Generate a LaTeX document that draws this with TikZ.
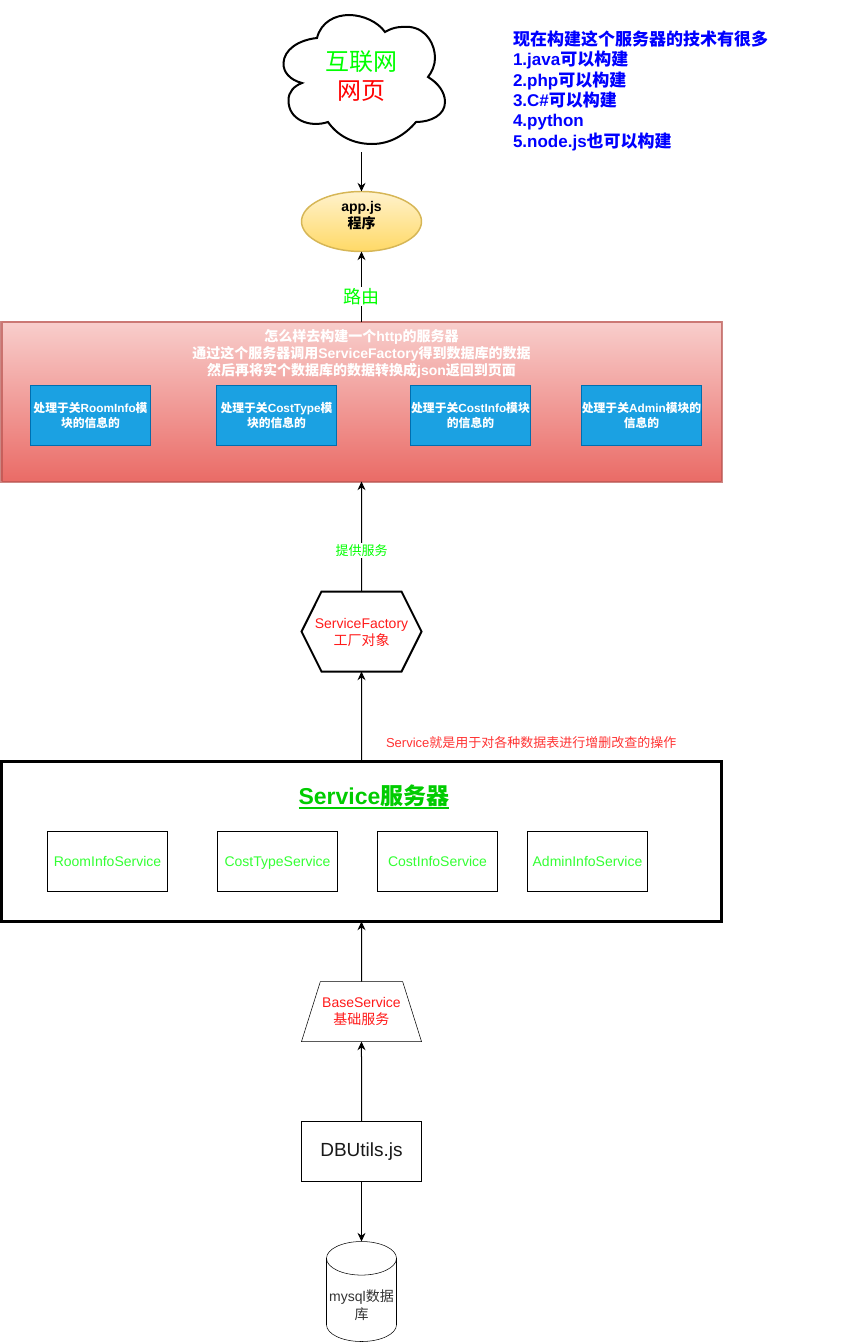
\documentclass[tikz,border=0pt]{standalone}
\usepackage{xcolor}
\usepackage{fontspec}
\setmainfont{Liberation Sans}
\newfontfamily\cjk{Noto Sans CJK SC}
\newcommand{\zh}[1]{{\cjk #1}}
\newcommand{\thickunder}[1]{\setbox0\hbox{#1}\rlap{\rule[-3pt]{\wd0}{1.3pt}}\box0}
\usepackage{tikz}
\usetikzlibrary{arrows.meta,positioning,shapes.geometric,shapes.symbols}
\definecolor{AppFillTop}{HTML}{FFF2CC}
\definecolor{AppFillBottom}{HTML}{FFD966}
\definecolor{AppLine}{HTML}{D6B656}
\definecolor{RouteTop}{HTML}{F8CECC}
\definecolor{RouteBottom}{HTML}{EA6B66}
\definecolor{RouteLine}{HTML}{B85450}
\definecolor{ModuleFill}{HTML}{1BA1E2}
\definecolor{ModuleLine}{HTML}{006EAF}
\definecolor{PureGreen}{HTML}{00FF00}
\definecolor{TitleGreen}{HTML}{00CC00}
\definecolor{CellGreen}{HTML}{33FF33}
\definecolor{NoteRed}{HTML}{FF3333}
\definecolor{ShapeRed}{HTML}{FF1A1A}
\tikzset{
  every node/.style={outer sep=0pt},
  cloudtext/.style={align=center, minimum width=120pt, minimum height=114pt,
    font=\fontsize{18}{21.6}\selectfont},
  appnode/.style={ellipse, draw=AppLine, line width=1.1pt, top color=AppFillTop, bottom color=AppFillBottom,
    align=center, minimum width=90pt, minimum height=45pt, inner sep=0pt, text depth=10pt,
    font=\bfseries\fontsize{10.5}{12.6}\selectfont},
  routebox/.style={draw=RouteLine, line width=1.5pt, draw opacity=.7, top color=RouteTop, bottom color=RouteBottom,
    minimum width=540pt, minimum height=120pt},
  routetitle/.style={text=white, align=center, inner sep=0pt,
    font=\bfseries\fontsize{10.5}{12.75}\selectfont},
  modulebox/.style={draw=ModuleLine, fill=ModuleFill, text=white, align=center, inner sep=0pt,
    minimum width=90pt, minimum height=45pt, font=\bfseries\fontsize{8.85}{11.25}\selectfont},
  factorynode/.style={signal, signal to=east and west, signal pointer angle=126.87,
    draw, line width=1.5pt, text=ShapeRed, align=center, inner sep=0pt, minimum width=90pt, minimum height=60pt,
    text depth=-1.2pt, font=\fontsize{10.5}{12.75}\selectfont},
  servicebox/.style={draw, line width=2.25pt, minimum width=540pt, minimum height=120pt},
  servicetitle/.style={text=TitleGreen, inner sep=0pt, font=\bfseries\fontsize{17.25}{20}\selectfont},
  servicecell/.style={draw, text=CellGreen, inner sep=0pt, minimum width=90pt, minimum height=45pt,
    text height=9pt, text depth=1.5pt, font=\fontsize{10.5}{12.6}\selectfont},
  basenode/.style={trapezium, trapezium left angle=56.3, trapezium right angle=56.3, trapezium stretches body=true,
    draw, text=ShapeRed, align=center, inner sep=0pt, minimum width=90pt, minimum height=45pt,
    font=\fontsize{10.5}{12.75}\selectfont},
  utilsnode/.style={draw, text=black!90, inner sep=0pt, minimum width=90pt, minimum height=45pt,
    font=\fontsize{14.25}{16}\selectfont},
  dbnode/.style={cylinder, shape border rotate=90, aspect=.52, draw, text=black!80, align=center, inner sep=0pt,
    minimum width=52.5pt, minimum height=75pt, text height=30.5pt, font=\fontsize{10.5}{13.5}\selectfont},
  wire/.style={-{Stealth[length=6.5pt,width=6pt]}, line width=.75pt},
  wirelabel/.style={fill=white, inner sep=1pt},
  bluenote/.style={text=blue, align=left, inner sep=0pt, font=\bfseries\fontsize{12.75}{15.3}\selectfont},
  rednote/.style={text=NoteRed, inner sep=0pt, font=\fontsize{9.75}{11.7}\selectfont}
}
\begin{document}
\begin{tikzpicture}
  \useasboundingbox (0,0) rectangle (631.5pt,-1006.5pt);
  % cloud outline
  \begin{scope}[x=.75pt,y=-.75pt]
    \draw[line width=1.5pt] (317,38) .. controls (321,22) and (335,15) .. (349,15)
      .. controls (363,15) and (378,22) .. (385,32) .. controls (395,26) and (402,27) .. (410,27)
      .. controls (427,29) and (435,45) .. (435,58) .. controls (435,65) and (432,72) .. (428,77)
      .. controls (438,83) and (445,92) .. (445,102) .. controls (445,115) and (431,122) .. (416,122)
      .. controls (405,135) and (390,144) .. (372,144) .. controls (352,144) and (337,135) .. (328,122)
      .. controls (310,128) and (288,120) .. (288.5,100) .. controls (288.5,92) and (294,86) .. (302,83)
      .. controls (290,80) and (283,72) .. (283.5,63) .. controls (284,50) and (298,40) .. (317,38) -- cycle;
  \end{scope}
  \node[cloudtext] (cloud) at (271.125pt,-57pt) {\textcolor{PureGreen}{\zh{互联网}}\\\textcolor{red}{\zh{网页}}};
  \node[appnode, below=29.625pt of cloud] (app) {app.js\\\zh{程序}};
  \node[routebox, below=52.5pt of app] (route) {};
  \node[routetitle, below=6.2pt of route.north] (routetext)
    {\zh{怎么样去构建一个}http\zh{的服务器}\\\zh{通过这个服务器调用}ServiceFactory\zh{得到数据库的数据}\\\zh{然后再将实个数据库的数据转换成}json\zh{返回到页面}};
  \node[modulebox, below right=48pt and 21.75pt of route.north west] (moduleroom) {\zh{处理于关}RoomInfo\zh{模}\\\zh{块的信息的}};
  \node[modulebox, right=49.5pt of moduleroom] (moduletype) {\zh{处理于关}CostType\zh{模}\\\zh{块的信息的}};
  \node[modulebox, right=55.5pt of moduletype] (modulecost) {\zh{处理于关}CostInfo\zh{模块}\\\zh{的信息的}};
  \node[modulebox, right=38.25pt of modulecost] (moduleadmin) {\zh{处理于关}Admin\zh{模块的}\\\zh{信息的}};
  \node[factorynode, below=82.5pt of route] (factory) {\makebox[60pt]{ServiceFactory}\\\zh{工厂对象}};
  \node[servicebox, below=67.5pt of factory] (service) {};
  \node[servicetitle, below=17.7pt of service.north, xshift=9.4pt] (servicetext) {\thickunder{Service\zh{服务器}}};
  \node[rednote, above right=9.5pt and 18.4pt of service.north] (servicenote) {Service\zh{就是用于对各种数据表进行增删改查的操作}};
  \node[servicecell, below right=52.5pt and 34.5pt of service.north west] (cellroom) {RoomInfoService};
  \node[servicecell, right=37.5pt of cellroom] (celltype) {CostTypeService};
  \node[servicecell, right=30pt of celltype] (cellcost) {CostInfoService};
  \node[servicecell, right=22.5pt of cellcost] (celladmin) {AdminInfoService};
  \node[basenode, below=45pt of service] (base) {BaseService\\\zh{基础服务}};
  \node[utilsnode, below=60pt of base] (utils) {DBUtils.js};
  \node[dbnode, below=45pt of utils] (mysql) {mysql\zh{数据}\\\zh{库}};
  \node[bluenote, anchor=north west] (technote) at (384.75pt,-23pt)
    {\zh{现在构建这个服务器的技术有很多}\\1.java\zh{可以构建}\\2.php\zh{可以构建}\\3.C\#\zh{可以构建}\\4.python\\5.node.js\zh{也可以构建}};
  \draw[wire] (cloud) -- (app);
  \draw[wire] (route) -- node[wirelabel, pos=.36, text=PureGreen, font=\fontsize{13.5}{16}\selectfont] (routelabel) {\zh{路由}} (app);
  \draw[wire] (factory) -- node[wirelabel, pos=.37, text=PureGreen, font=\fontsize{9.75}{11.7}\selectfont] (servelabel) {\zh{提供服务}} (route);
  \draw[wire] (service) -- (factory);
  \draw[wire] (base) -- (service);
  \draw[wire] (utils) -- (base);
  \draw[wire] (utils) -- (mysql);
\end{tikzpicture}
\end{document}
